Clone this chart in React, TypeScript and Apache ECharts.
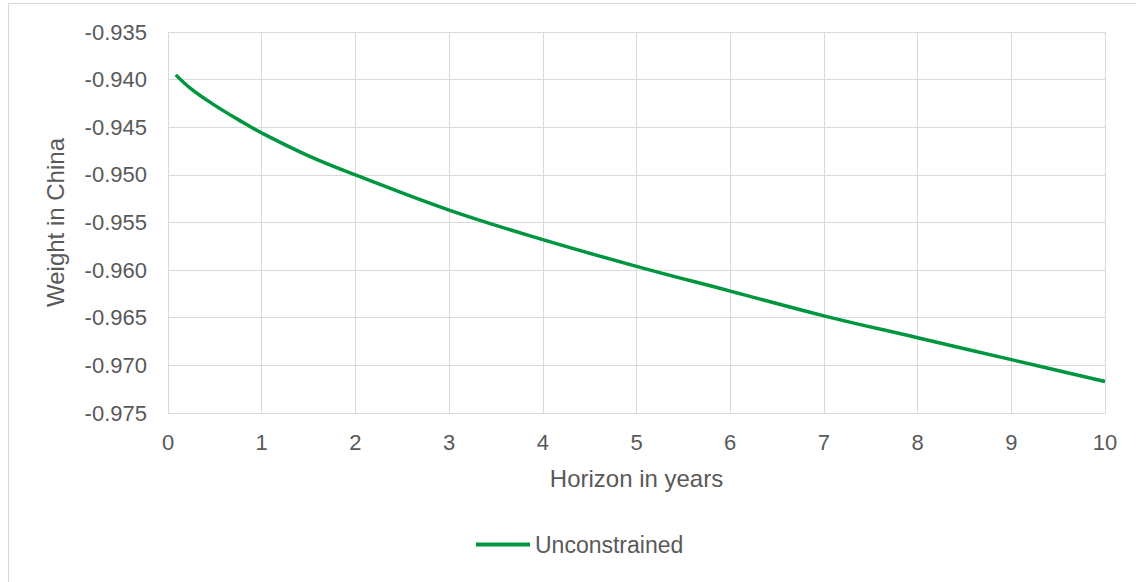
import React, { useEffect, useRef } from "react";
import * as echarts from "echarts";

const horizonYears = [0.0833, 0.25, 0.5, 0.75, 1, 1.5, 2, 3, 4, 5, 6, 7, 8, 9, 10];
const weightChina = [
  -0.9395, -0.941, -0.9427, -0.9442, -0.9456, -0.948, -0.95, -0.9537, -0.9568, -0.9596,
  -0.9622, -0.9648, -0.9671, -0.9694, -0.9717,
];
const seriesName = "Unconstrained";
const xTitle = "Horizon in years";
const yTitle = "Weight in China";

export default function App() {
  const ref = useRef<HTMLDivElement>(null);
  useEffect(() => {
    if (!ref.current) return;
    const chart = echarts.init(ref.current, undefined, { renderer: "svg" });
    const font = "'Liberation Sans', Arial, sans-serif";
    const textColor = "#595959";
    const gridColor = "#d9d9d9";
    chart.setOption({
      animation: false,
      backgroundColor: "#ffffff",
      textStyle: { fontFamily: font },
      graphic: [
        {
          type: "rect",
          shape: { x: 8.5, y: 3.5, width: 1300, height: 800 },
          style: { fill: "none", stroke: gridColor, lineWidth: 1 },
          silent: true,
          z: -10,
        },
      ],
      grid: { left: 168, top: 32, right: 31, bottom: 169, containLabel: false },
      legend: {
        left: 476,
        top: 533,
        padding: 0,
        icon: "rect",
        itemWidth: 54,
        itemHeight: 4,
        itemGap: 10,
        textStyle: { color: textColor, fontSize: 23, fontFamily: font },
        data: [seriesName],
      },
      xAxis: {
        type: "value",
        min: 0,
        max: 10,
        interval: 1,
        name: xTitle,
        nameLocation: "middle",
        nameGap: 53,
        nameTextStyle: { color: textColor, fontSize: 24, fontFamily: font },
        axisLine: { show: true, lineStyle: { color: gridColor, width: 1 } },
        axisTick: { show: false },
        axisLabel: { color: textColor, fontSize: 22, margin: 18, fontFamily: font },
        splitLine: { show: true, lineStyle: { color: gridColor, width: 1 } },
      },
      yAxis: {
        type: "value",
        min: -0.975,
        max: -0.935,
        interval: 0.005,
        name: yTitle,
        nameLocation: "middle",
        nameGap: 101,
        nameTextStyle: { color: textColor, fontSize: 24, fontFamily: font },
        axisLine: { show: true, lineStyle: { color: gridColor, width: 1 } },
        axisTick: { show: false },
        axisLabel: {
          color: textColor,
          fontSize: 22,
          margin: 21,
          fontFamily: font,
          formatter: (v: number) => v.toFixed(3),
        },
        splitLine: { show: true, lineStyle: { color: gridColor, width: 1 } },
      },
      series: [
        {
          name: seriesName,
          type: "line",
          smooth: 0.4,
          symbol: "none",
          showSymbol: false,
          lineStyle: { color: "#00963f", width: 3.5 },
          itemStyle: { color: "#00963f" },
          data: horizonYears.map((x, i) => [x, weightChina[i]]),
        },
      ],
    });
    return () => chart.dispose();
  }, []);
  return (
    <div
      ref={ref}
      style={{ position: "absolute", left: 0, top: 0, width: 1136, height: 582 }}
    />
  );
}
